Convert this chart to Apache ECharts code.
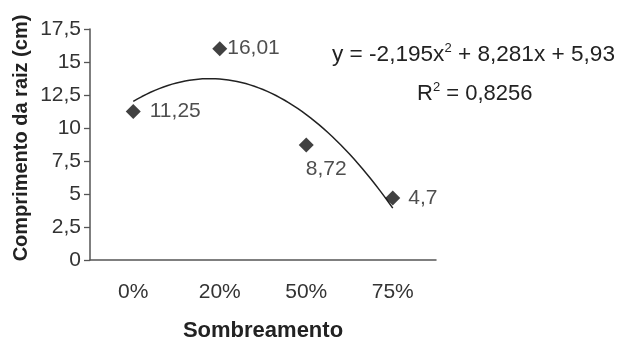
<!DOCTYPE html>
<html><head><meta charset="utf-8">
<script src="https://cdn.jsdelivr.net/npm/echarts@6/dist/echarts.min.js"></script>
<style>html,body{margin:0;padding:0;background:#fff}#c{width:618px;height:341px}</style>
</head><body><div id="c"></div>
<script>
var categories = ['0%', '20%', '50%', '75%'];
var values = [11.25, 16.01, 8.72, 4.7];
var trendCoef = [-2.195, 8.281, 5.93]; // a, b, c from the printed equation
var rSquared = '0,8256';
var yTicks = [0, 2.5, 5, 7.5, 10, 12.5, 15, 17.5];

var trend = [];
for (var i = 0; i <= 60; i++) {
  var x = 1 + i * 0.05;
  trend.push([x, trendCoef[0] * x * x + trendCoef[1] * x + trendCoef[2]]);
}
var fmt = function (v) { return String(v).replace('.', ','); };
var font = 'Liberation Sans, Arial, sans-serif';
var labelCfg = [
  { position: 'right', distance: 9 },
  { position: 'right', distance: 0 },
  { position: 'bottom', distance: 6, offset: [20, 0] },
  { position: 'right', distance: 8 }
];
var chart = echarts.init(document.getElementById('c'));
chart.setOption({
  animation: false,
  grid: { left: 90, right: 182, top: 29, bottom: 81, outerBoundsMode: 'none', containLabel: false },
  xAxis: [{
    type: 'category', data: categories, boundaryGap: true,
    name: 'Sombreamento', nameLocation: 'middle', nameGap: 60,
    nameTextStyle: { fontFamily: font, fontSize: 22, fontWeight: 'bold', color: '#222' },
    axisLine: { lineStyle: { color: '#555', width: 1.5 } },
    axisTick: { length: 6, alignWithLabel: false, lineStyle: { color: '#555', width: 1.3 } },
    axisLabel: { fontFamily: font, fontSize: 21, color: '#333', margin: 22 }
  }, {
    type: 'value', min: 0.5, max: 4.5, show: false
  }],
  yAxis: {
    type: 'value', min: 0, max: 17.5, interval: 2.5,
    axisLine: { show: true, lineStyle: { color: '#555', width: 1.5 } },
    axisTick: { show: true, length: 6, lineStyle: { color: '#555', width: 1.3 } },
    splitLine: { show: false },
    axisLabel: { fontFamily: font, fontSize: 21, color: '#333', margin: 9, formatter: function (v) { return fmt(v); } }
  },
  series: [{
    type: 'line', xAxisIndex: 1, data: trend, showSymbol: false, smooth: false,
    lineStyle: { color: '#222', width: 1.5 }, silent: true, z: 1
  }, {
    type: 'scatter', xAxisIndex: 0, symbol: 'diamond', symbolSize: 15,
    itemStyle: { color: '#111' }, z: 3,
    data: values.map(function (v, i) { return { value: v, label: labelCfg[i] }; }),
    label: { show: true, fontFamily: font, fontSize: 21, color: '#222', formatter: function (p) { return fmt(p.value); } }
  }],
  graphic: [{
    type: 'text', x: 21, y: 138, rotation: Math.PI / 2,
    style: {
      text: 'Comprimento da raiz (cm)', fontFamily: font, fontSize: 20, fontWeight: 'bold',
      fill: '#222', align: 'center', verticalAlign: 'middle'
    }
  }, {
    type: 'text', left: 332, top: 42,
    style: {
      text: '{a|y = -2,195x}{s|2}{a| + 8,281x + 5,93}',
      rich: {
        a: { fontFamily: font, fontSize: 22.6, fill: '#222', verticalAlign: 'bottom', lineHeight: 24 },
        s: { fontFamily: font, fontSize: 13, fill: '#222', verticalAlign: 'top', lineHeight: 24 }
      }
    }
  }, {
    type: 'text', left: 417, top: 81,
    style: {
      text: '{a|R}{s|2}{a| = ' + rSquared + '}',
      rich: {
        a: { fontFamily: font, fontSize: 22, fill: '#222', verticalAlign: 'bottom', lineHeight: 24 },
        s: { fontFamily: font, fontSize: 13, fill: '#222', verticalAlign: 'top', lineHeight: 24 }
      }
    }
  }]
});
</script></body></html>
